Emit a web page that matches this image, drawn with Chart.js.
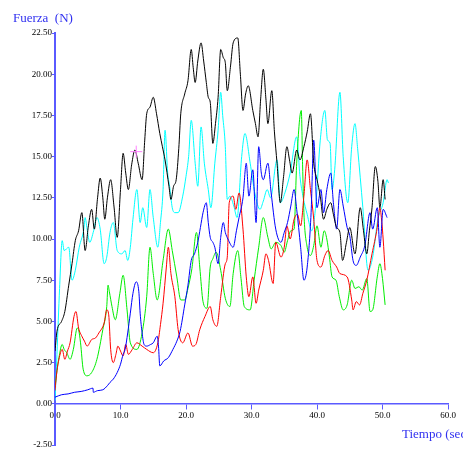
<!DOCTYPE html>
<html>
<head>
<meta charset="utf-8">
<script src="https://cdn.jsdelivr.net/npm/chart.js@4.4.1/dist/chart.umd.min.js"></script>
<style>
html,body{margin:0;padding:0;background:#fff;}
#wrap{width:463px;height:464px;}
</style>
</head>
<body>
<div id="wrap"><canvas id="c" width="463" height="464"></canvas></div>
<script>
// ---- data (time s, force N) ----
const xTicks = [0, 10, 20, 30, 40, 50, 60];
const xTickLabels = ['0.0', '10.0', '20.0', '30.0', '40.0', '50.0', '60.0'];
const yTicks = [-2.5, 0, 2.5, 5, 7.5, 10, 12.5, 15, 17.5, 20, 22.5];
const yTickLabels = ['-2.50', '0.00', '2.50', '5.00', '7.50', '10.00', '12.50', '15.00', '17.50', '20.00', '22.50'];
const yAxisTitle = 'Fuerza  (N)';
const xAxisTitle = 'Tiempo (sec)';

const blackSeries = [[0,3.2],[0.3,4.4],[1.0,5.0],[1.5,5.6],[2.1,7.2],[2.6,8.5],[3.1,9.9],[3.6,10.5],[4.1,11.6],[4.6,9.3],[5.1,10.8],[5.6,11.8],[6.0,10.6],[6.5,12.5],[6.9,13.7],[7.3,12.5],[7.6,11.2],[8.0,12.5],[8.5,13.6],[9.0,12.0],[9.5,10.1],[10.0,13.0],[10.4,15.2],[10.8,14.0],[11.2,13.0],[11.7,14.5],[12.2,15.4],[12.7,14.6],[13.3,13.6],[13.7,16.0],[14.0,17.6],[14.5,18.0],[15.0,18.6],[15.5,17.6],[16.0,16.4],[16.4,15.6],[16.8,14.8],[17.4,13.2],[17.7,12.4],[18.1,13.2],[18.5,13.6],[18.9,15.5],[19.2,17.6],[19.8,18.8],[20.3,19.6],[20.8,21.5],[21.1,20.4],[21.4,19.5],[21.8,20.8],[22.3,21.9],[22.7,20.8],[23.1,19.5],[23.4,18.6],[23.7,18.3],[24.1,15.8],[24.5,17.0],[24.9,18.6],[25.3,21.5],[25.7,21.0],[26.0,20.7],[26.3,19.0],[26.8,20.5],[27.2,21.9],[27.9,22.2],[28.3,20.0],[28.7,17.8],[29.1,18.8],[29.5,19.3],[30.2,17.8],[30.6,17.0],[31.0,16.2],[31.4,18.5],[31.8,20.3],[32.2,18.5],[32.5,17.0],[33.1,19.0],[33.5,16.5],[33.9,14.6],[34.4,12.2],[34.9,13.8],[35.4,15.6],[35.8,14.8],[36.2,14.0],[36.9,15.4],[37.4,14.8],[38.0,15.6],[38.5,16.5],[39.0,17.6],[39.5,14.6],[40.0,13.6],[40.5,12.6],[41.0,11.2],[41.5,11.8],[42.1,12.2],[42.5,11.5],[43.0,10.7],[43.5,10.4],[43.9,8.7],[44.5,9.8],[45.0,10.7],[45.8,9.1],[46.6,11.9],[47.1,10.5],[47.6,9.1],[48.0,10.5],[48.4,11.9],[48.9,14.4],[49.3,13.5],[49.6,11.9],[50.1,13.6],[50.4,12.4]];

const cyanSeries = [[0,0.2],[0.3,3.0],[0.7,7.0],[1.1,9.9],[1.4,9.3],[2.1,9.5],[2.6,7.5],[3.1,8.1],[3.7,9.5],[4.4,10.6],[4.6,11.3],[4.9,10.6],[5.3,9.8],[5.9,10.5],[6.4,11.3],[6.9,10.6],[7.5,8.5],[7.9,8.9],[8.4,10.4],[8.9,11.0],[9.5,9.3],[10.2,9.1],[10.7,9.3],[11.1,8.7],[11.5,9.5],[11.9,11.2],[12.5,13.0],[13.0,11.0],[13.4,11.9],[14.0,10.7],[14.5,13.0],[15.0,11.3],[15.7,9.5],[16.1,11.0],[16.5,13.0],[16.8,16.6],[17.2,14.0],[17.5,13.2],[17.9,11.9],[18.3,11.6],[18.8,11.6],[19.5,12.6],[20.0,13.8],[20.4,15.0],[20.8,17.2],[21.4,14.6],[21.8,13.2],[22.3,16.8],[22.8,14.6],[23.4,13.0],[23.8,11.9],[24.4,14.6],[24.9,16.6],[25.3,18.9],[25.6,17.5],[26.0,15.6],[26.3,12.4],[26.7,12.6],[27.3,12.0],[27.8,11.3],[28.5,15.0],[29.0,16.4],[29.8,14.6],[30.5,12.8],[31.3,11.8],[31.8,12.3],[32.4,13.0],[32.9,12.5],[33.9,14.8],[34.4,12.2],[35.1,12.8],[35.9,14.0],[36.9,16.2],[37.4,13.8],[37.9,12.5],[38.5,11.5],[39.2,10.5],[39.8,12.0],[40.5,16.0],[41.2,17.8],[41.6,16.0],[42.0,15.8],[42.3,13.0],[42.7,14.2],[43.5,18.9],[44.0,15.0],[44.7,12.2],[45.3,15.6],[45.8,17.0],[46.2,15.5],[47.0,11.9],[47.8,8.1],[48.5,8.9],[49.3,11.2],[50.1,12.2],[50.7,13.6],[50.9,13.4]];

const blueSeries = [[0,0.4],[1,0.55],[2,0.6],[3,0.7],[4,0.75],[5,0.85],[5.8,0.95],[5.85,0.7],[6.5,0.8],[7.3,0.85],[8.0,1.1],[8.4,1.3],[8.9,1.5],[9.5,1.9],[10.0,2.4],[10.4,3.0],[10.7,3.3],[11.1,4.3],[11.5,5.5],[11.9,6.7],[12.4,7.4],[12.8,6.8],[13.0,5.5],[13.3,4.3],[13.6,3.6],[14.0,3.5],[14.6,3.6],[15.0,3.7],[15.6,4.1],[15.8,3.5],[16.0,2.3],[16.6,2.6],[17.3,2.8],[18.0,3.3],[18.6,3.8],[19.1,4.4],[19.8,6.0],[20.3,7.2],[20.8,8.7],[21.3,9.1],[21.8,9.8],[22.2,10.7],[22.6,11.6],[23.1,12.2],[23.4,11.0],[23.7,10.1],[24.1,9.8],[24.4,9.5],[24.9,8.5],[25.3,10.1],[25.7,11.0],[26.0,10.4],[26.4,10.0],[27.2,9.5],[27.7,10.5],[28.1,11.3],[28.7,12.5],[29.2,14.6],[29.6,12.6],[30.2,14.2],[30.7,11.0],[31.1,15.6],[31.5,14.0],[31.8,13.6],[32.5,14.6],[33.0,12.8],[33.7,10.6],[34.5,9.8],[35.0,10.4],[35.5,11.0],[36.0,12.0],[36.5,13.0],[36.9,11.8],[37.5,9.5],[38.0,7.5],[38.5,8.3],[39.1,11.6],[39.5,16.0],[40.0,11.9],[40.6,13.0],[41.0,11.6],[41.5,13.0],[42.1,14.0],[42.5,12.2],[43.0,10.6],[43.5,13.0],[44.0,12.0],[44.6,10.7],[45.0,10.2],[45.5,8.7],[46.0,8.4],[46.6,8.9],[47.3,9.6],[48.1,11.6],[48.5,10.6],[49.2,11.9],[49.6,9.5],[50.1,11.8],[50.7,11.3]];

const redSeries = [[0,0.8],[0.3,2.0],[0.6,2.7],[1.1,3.3],[1.5,2.7],[1.9,3.2],[2.3,3.7],[2.9,5.3],[3.2,5.6],[3.6,4.6],[4.1,4.1],[4.5,3.8],[4.9,3.5],[5.6,3.9],[6.2,4.0],[6.7,4.3],[7.5,4.9],[7.9,5.7],[8.2,5.4],[8.5,3.3],[8.9,2.5],[9.3,3.0],[9.6,3.5],[10.0,3.2],[10.4,2.9],[10.8,3.6],[11.2,3.0],[11.8,3.3],[12.5,3.7],[13.3,3.5],[14.0,3.3],[15.0,3.1],[15.7,3.7],[16.1,4.8],[16.5,6.1],[17.0,8.3],[17.3,9.5],[17.7,7.9],[18.3,6.5],[18.8,4.5],[19.5,3.7],[20.3,4.3],[21.0,3.5],[21.5,3.6],[22.1,4.5],[22.9,5.3],[23.7,5.9],[24.1,5.1],[24.7,4.7],[25.3,6.5],[26.0,8.5],[26.3,8.9],[26.6,12.2],[27.2,12.6],[27.6,11.8],[28.1,12.8],[28.7,10.6],[29.2,7.7],[29.6,6.5],[30.2,7.7],[30.7,6.1],[31.1,6.9],[31.8,8.1],[32.2,9.1],[32.6,8.7],[33.3,7.3],[33.7,9.8],[34.5,8.9],[35.0,9.5],[35.4,10.8],[35.9,10.0],[36.5,11.2],[37.0,11.5],[37.5,10.8],[38.0,12.6],[38.5,14.8],[39.0,13.0],[39.5,11.2],[40.0,8.7],[40.6,8.3],[41.2,9.0],[41.7,9.3],[42.3,8.7],[43.0,8.3],[43.5,7.9],[44.6,7.7],[45.3,6.3],[45.5,5.7],[46.0,6.2],[46.5,6.0],[47.0,6.7],[47.6,7.5],[48.4,9.1],[49.2,10.7],[49.6,11.9],[49.9,11.0],[50.1,10.0],[50.4,8.1]];

const greenSeries = [[0,1.0],[0.3,2.0],[0.6,2.8],[1.1,3.6],[1.4,3.3],[1.8,3.1],[2.3,2.7],[2.8,3.3],[3.4,4.6],[3.6,4.5],[3.9,3.7],[4.3,2.1],[4.9,1.7],[5.6,1.9],[6.4,2.7],[7.3,4.5],[7.9,5.9],[8.1,7.2],[8.3,6.8],[8.7,5.9],[9.2,5.1],[9.9,6.7],[10.4,7.8],[11.0,5.7],[11.5,3.7],[12.5,3.3],[13.3,4.3],[14.0,6.5],[14.5,9.5],[15.0,7.9],[15.6,6.3],[16.5,8.7],[17.3,10.6],[17.9,9.3],[18.6,7.7],[19.2,6.3],[19.8,6.3],[20.3,7.0],[20.9,8.2],[21.6,10.4],[22.1,8.3],[22.6,6.2],[23.2,5.8],[23.7,8.3],[24.1,8.8],[24.6,9.2],[25.3,8.1],[26.0,6.4],[26.7,5.9],[27.2,7.9],[27.9,9.3],[28.4,7.6],[28.9,5.9],[29.8,5.7],[30.4,7.5],[31.1,9.5],[31.8,11.3],[32.5,10.1],[33.0,9.4],[33.7,9.8],[34.5,9.6],[35.0,9.2],[35.5,9.9],[36.0,10.5],[36.5,10.6],[36.9,14.6],[37.6,17.8],[37.8,14.5],[38.0,11.6],[38.5,9.5],[39.0,9.0],[39.5,9.6],[40.0,10.8],[40.6,9.5],[41.1,10.5],[41.5,10.0],[41.9,8.9],[42.3,7.7],[42.9,7.5],[43.4,6.5],[44.0,5.7],[44.6,6.0],[45.3,7.5],[45.8,7.0],[46.4,7.1],[46.9,6.9],[47.6,7.6],[48.1,5.6],[48.5,5.7],[49.2,7.7],[49.6,8.5],[50.0,7.6],[50.4,6.0]];

const cursorMark = [[12.4, 15.3]];

// ---- chart ----
const toXY = arr => arr.map(p => ({x: p[0], y: p[1]}));
const AXIS = '#5a5aff';
const LABEL = '#3030f0';

const titlePlugin = {
  id: 'titles',
  afterDraw(chart) {
    const ctx = chart.ctx;
    ctx.save();
    ctx.fillStyle = LABEL;
    ctx.font = '13px "Liberation Serif", serif';
    ctx.textBaseline = 'alphabetic';
    ctx.textAlign = 'left';
    ctx.fillText(yAxisTitle, 13, 22);
    ctx.fillText(xAxisTitle, 402, 438);
    ctx.restore();
  }
};
const bgPlugin = {
  id: 'bg',
  beforeDraw(chart) {
    const ctx = chart.ctx;
    ctx.save();
    ctx.fillStyle = '#fff';
    ctx.fillRect(0, 0, chart.width, chart.height);
    ctx.restore();
  }
};

const line = (data, color, order) => ({
  type: 'line', data: toXY(data), borderColor: color, borderWidth: 1,
  pointRadius: 0, cubicInterpolationMode: 'monotone', fill: false, order: order
});

new Chart(document.getElementById('c'), {
  type: 'line',
  data: {
    datasets: [
      {type: 'scatter', data: toXY(cursorMark), pointStyle: 'cross', pointRadius: 6,
       borderColor: '#ff80ff', borderWidth: 1, order: 0, showLine: false},
      line(blackSeries, '#000000', 1),
      line(blueSeries, '#0000ff', 2),
      line(redSeries, '#ff0000', 3),
      line(greenSeries, '#00ee00', 4),
      line(cyanSeries, '#00ffff', 5)
    ]
  },
  options: {
    responsive: false,
    animation: false,
    devicePixelRatio: 1,
    layout: {padding: {left: 0, top: 33, right: 15, bottom: 19}},
    plugins: {legend: {display: false}, tooltip: {enabled: false}},
    scales: {
      x: {
        type: 'linear', min: 0, max: 60,
        position: {y: 0},
        afterBuildTicks: s => { s.ticks = xTicks.map(v => ({value: v})); },
        ticks: {
          callback: (v, i) => xTickLabels[i],
          autoSkip: false, maxRotation: 0, color: '#000',
          font: {family: '"Liberation Serif", serif', size: 9}, padding: 1
        },
        grid: {drawOnChartArea: false, color: AXIS, tickLength: 5},
        border: {color: AXIS, width: 1.5}
      },
      y: {
        type: 'linear', min: -2.5, max: 22.5,
        afterBuildTicks: s => { s.ticks = yTicks.map(v => ({value: v})); },
        afterFit: s => { s.width = 55; },
        ticks: {
          callback: (v, i) => yTickLabels[i],
          autoSkip: false, color: '#000',
          font: {family: '"Liberation Serif", serif', size: 9}, padding: 0
        },
        grid: {drawOnChartArea: false, color: AXIS, tickLength: 3},
        border: {color: AXIS, width: 2}
      }
    }
  },
  plugins: [bgPlugin, titlePlugin]
});
</script>
</body>
</html>
